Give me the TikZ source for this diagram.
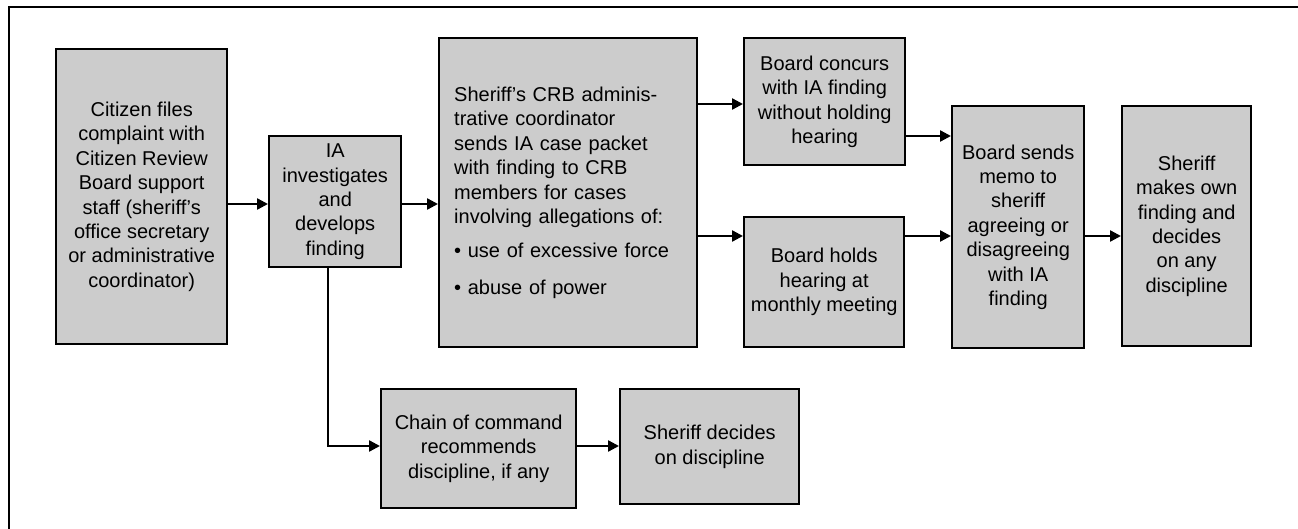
\documentclass[tikz,border=0pt]{standalone}
\usepackage{fontspec}
\setmainfont{Liberation Sans}
\usepackage{tikz}
\usetikzlibrary{positioning, arrows.meta}
\definecolor{boxgray}{RGB}{204,204,204}
\tikzset{
->, % every connector is directed
>={Triangle[length=11pt,width=11pt]}, % filled triangle heads
box/.style={draw, fill=boxgray, anchor=north west, inner sep=0pt, align=center,
  font=\fontsize{20}{24.4}\selectfont}, % the grey step boxes
frame/.style={-, line width=2.6pt}, % the cut frame round the chart
}

\begin{document}
\begin{tikzpicture}[x=1pt, y=-1pt, line width=2.4pt]
        \useasboundingbox (0,0) rectangle (1298,529);
        \draw[frame] (1298,7) -- (9,7) -- (9,529);

        \node[box, minimum width=171pt, minimum height=295pt] (citizen) at (55,48)
          {Citizen files\\complaint with\\Citizen Review\\Board support\\staff (sheriff’s\\office secretary\\or administrative\\coordinator)};
        \node[box, minimum width=132pt, minimum height=131pt] (ia) at (268,135)
          {IA\\investigates\\and\\develops\\finding};
        \node[box, minimum width=258pt, minimum height=309pt, align=left, text width=228pt,
          inner xsep=15pt] (crb) at (438,37)
          {Sheriff’s CRB adminis-\\trative coordinator\\sends IA case packet\\with finding to CRB\\members for cases\\involving allegations of:\\[10pt]• use of excessive force\\[12pt]• abuse of power};
        \node[box, minimum width=161pt, minimum height=127pt] (concur) at (743,37)
          {Board concurs\\with IA finding\\without holding\\hearing};
        \node[box, minimum width=160pt, minimum height=130pt] (hearing) at (743,216)
          {Board holds\\hearing at\\monthly meeting};
        \node[box, minimum width=132pt, minimum height=242pt] (memo) at (951,105)
          {Board sends\\memo to\\sheriff\\agreeing or\\disagreeing\\with IA\\finding};
        \node[box, minimum width=129pt, minimum height=240pt] (own) at (1121,105)
          {Sheriff\\makes own\\finding and\\decides\\on any\\discipline};
        \node[box, minimum width=195pt, minimum height=119pt] (chain) at (380,388)
          {Chain of command\\recommends\\discipline, if any};
        \node[box, minimum width=179pt, minimum height=115pt] (decide) at (619,388)
          {Sheriff decides\\on discipline};

        \draw (citizen.east |- 0,204) -- (ia.west |- 0,204);
        \draw (ia.east |- 0,204) -- (crb.west |- 0,204);
        \draw (crb.east |- 0,104) -- (concur.west |- 0,104);
        \draw (crb.east |- 0,236) -- (hearing.west |- 0,236);
        \draw (concur.east |- 0,136) -- (memo.west |- 0,136);
        \draw (hearing.east |- 0,236) -- (memo.west |- 0,236);
        \draw (memo.east |- 0,236) -- (own.west |- 0,236);
        \draw (ia.south -| 328,0) |- (chain.west |- 0,446);
        \draw (chain.east |- 0,446) -- (decide.west |- 0,446);
      \end{tikzpicture}
\end{document}
